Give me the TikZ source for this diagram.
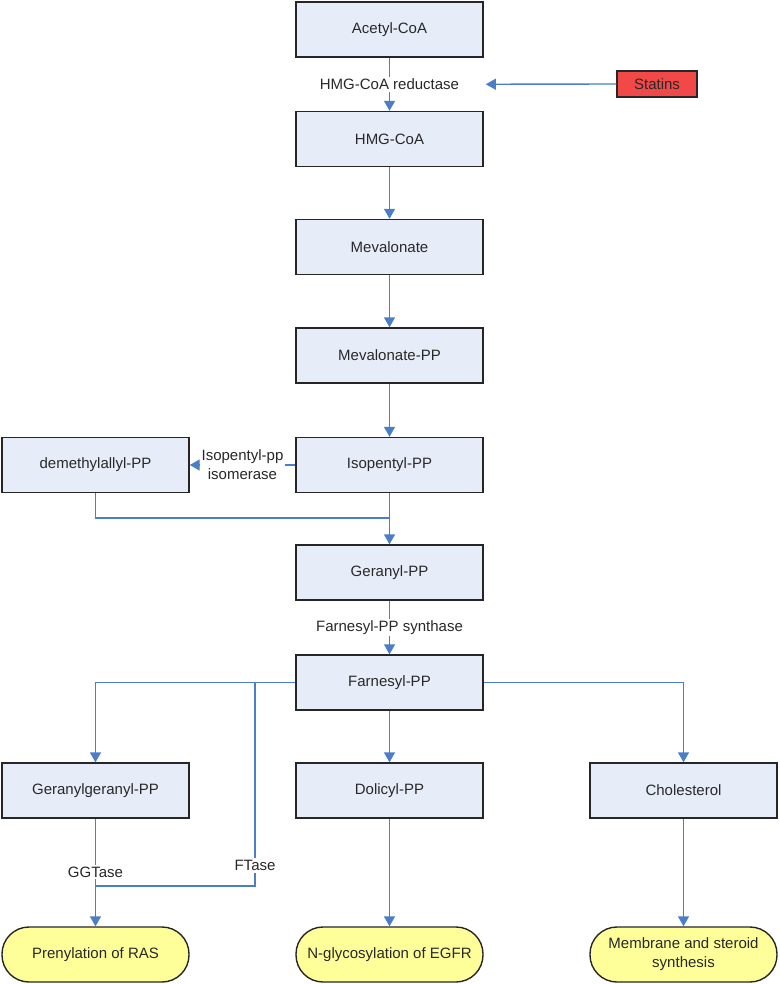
\documentclass[tikz,border=0pt]{standalone}
\usepackage{fontspec}
\setmainfont{Liberation Sans}
\usetikzlibrary{calc,positioning,arrows.meta}
\definecolor{boxfill}{RGB}{231,237,248}
\definecolor{flowblue}{RGB}{74,126,200}
\definecolor{statred}{RGB}{242,72,72}
\definecolor{endyellow}{RGB}{255,255,153}
\definecolor{inkgray}{RGB}{40,40,40}
\tikzset{
  stepbox/.style={draw=black!85, line width=1.4pt, fill=boxfill, minimum width=187pt, minimum height=55pt, inner sep=2pt},
  endbox/.style={stepbox, fill=endyellow, rounded corners=27pt, align=center},
  drugbox/.style={draw=black!85, line width=1.4pt, fill=statred, minimum width=80pt, minimum height=26pt, inner sep=1pt},
  flowline/.style={draw=flowblue, line width=1.4pt},
  flow/.style={flowline, -{Triangle[width=11pt,length=10pt]}},
  enzyme/.style={fill=white, inner sep=2pt, align=center}
}

\begin{document}
\begin{tikzpicture}[x=1pt,y=-1pt,font=\fontsize{15}{19}\selectfont,text=inkgray]
    \useasboundingbox (0,0) rectangle (779,984);
    \pgfmathsetmacro{\mainx}{389.5}
    \pgfmathsetmacro{\leftx}{95.5}
    \pgfmathsetmacro{\rightx}{683.5}

    % main chain
    \node[stepbox] (acetyl) at (\mainx,29.5) {Acetyl-CoA};
    \node[stepbox] (hmg) at (\mainx,139) {HMG-CoA};
    \node[stepbox] (meva) at (\mainx,247) {Mevalonate};
    \node[stepbox] (mevapp) at (\mainx,355.5) {Mevalonate-PP};
    \node[stepbox] (isopentyl) at (\mainx,465) {Isopentyl-PP};
    \node[stepbox] (demethyl) at (\leftx,465) {demethylallyl-PP};
    \node[stepbox] (geranyl) at (\mainx,572.5) {Geranyl-PP};
    \node[stepbox] (farnesyl) at (\mainx,682.5) {Farnesyl-PP};
    \node[drugbox] (statins) at (657,84) {Statins};

    % branches
    \node[stepbox] (gg) at (\leftx,790.5) {Geranylgeranyl-PP};
    \node[stepbox] (dolicyl) at (\mainx,790.5) {Dolicyl-PP};
    \node[stepbox] (chol) at (\rightx,790.5) {Cholesterol};
    \node[endbox] (prenyl) at (\leftx,954.5) {Prenylation of RAS};
    \node[endbox] (glyco) at (\mainx,954.5) {N-glycosylation of EGFR};
    \node[endbox] (membrane) at (\rightx,954.5) {Membrane and steroid\\synthesis};

    \draw[flow] (acetyl) -- node[enzyme] (reductase) {HMG-CoA reductase} (hmg);
    \draw[flow] (statins.west) -- ([xshift=24pt]reductase.east);
    \draw[flow] (hmg) -- (meva);
    \draw[flow] (meva) -- (mevapp);
    \draw[flow] (mevapp) -- (isopentyl);
    \draw[flow] (isopentyl.west) -- node[enzyme] {Isopentyl-pp\\isomerase} (demethyl.east);
    \coordinate (join) at (\mainx,518);
    \draw[flowline] (demethyl.south) |- (join);
    \draw[flow] (isopentyl) -- (geranyl);
    \draw[flow] (geranyl) -- node[enzyme] {Farnesyl-PP synthase} (farnesyl);

    % farnesyl-PP outputs
    \draw[flow] (farnesyl.west) -| (gg.north);
    \draw[flow] (farnesyl) -- (dolicyl);
    \draw[flow] (farnesyl.east) -| (chol.north);
    \coordinate (ftsplit) at (255,682.5);
    \coordinate (ftjoin) at (255,886);
    \coordinate (ggjoin) at (\leftx,886);
    \draw[flowline] (ftsplit) -- node[enzyme, pos=0.9] {FTase} (ftjoin) -- (ggjoin);
    \draw[flowline] (gg.south) -- node[enzyme, pos=0.79] {GGTase} (ggjoin);
    \draw[flow] (ggjoin) -- (prenyl);
    \draw[flow] (dolicyl) -- (glyco);
    \draw[flow] (chol) -- (membrane);
\end{tikzpicture}
\end{document}
